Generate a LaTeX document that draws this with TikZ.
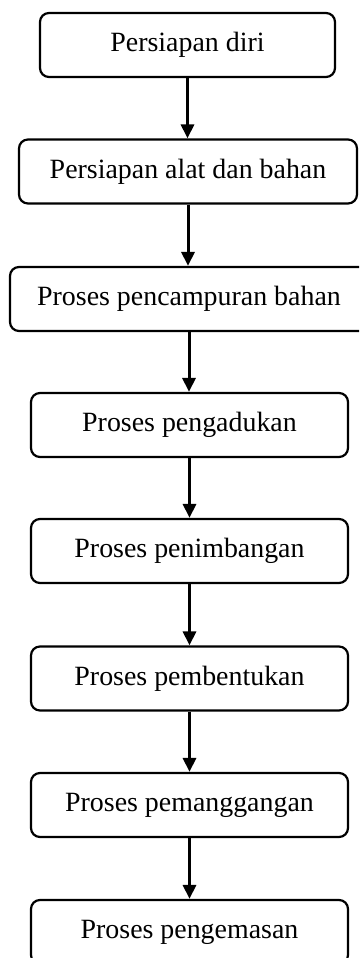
\documentclass[tikz,border=0pt]{standalone}
\usepackage{fontspec}
\setmainfont{Liberation Serif}
\usetikzlibrary{arrows.meta}
\begin{document}
\begin{tikzpicture}[x=1bp,y=-1bp,
  stepbox/.style={draw, line width=2.2bp, rounded corners=9bp, minimum height=64bp, inner sep=0pt,
    font=\fontsize{28}{34}\selectfont},
  flow/.style={line width=3bp, -{Triangle[length=14bp,width=13bp]}}]
\useasboundingbox (0,0) rectangle (359,958);
\clip (0,0) rectangle (359,958);
\node[stepbox, minimum width=295bp] (b1) at (187.5,45) {Persiapan diri};
\node[stepbox, minimum width=338bp] (b2) at (188,171.5) {Persiapan alat dan bahan};
\node[stepbox, minimum width=358bp] (b3) at (189,299) {Proses pencampuran bahan};
\node[stepbox, minimum width=317bp] (b4) at (189.5,425) {Proses pengadukan};
\node[stepbox, minimum width=317bp] (b5) at (189.5,551) {Proses penimbangan};
\node[stepbox, minimum width=317bp] (b6) at (189.5,678.5) {Proses pembentukan};
\node[stepbox, minimum width=317bp] (b7) at (189.5,805) {Proses pemanggangan};
\node[stepbox, minimum width=317bp] (b8) at (189.5,932) {Proses pengemasan};
\draw[flow] (b1.south) -- (b1.south |- b2.north);
\draw[flow] (b2.south) -- (b2.south |- b3.north);
\draw[flow] (b3.south) -- (b3.south |- b4.north);
\draw[flow] (b4.south) -- (b4.south |- b5.north);
\draw[flow] (b5.south) -- (b5.south |- b6.north);
\draw[flow] (b6.south) -- (b6.south |- b7.north);
\draw[flow] (b7.south) -- (b7.south |- b8.north);
\end{tikzpicture}
\end{document}
